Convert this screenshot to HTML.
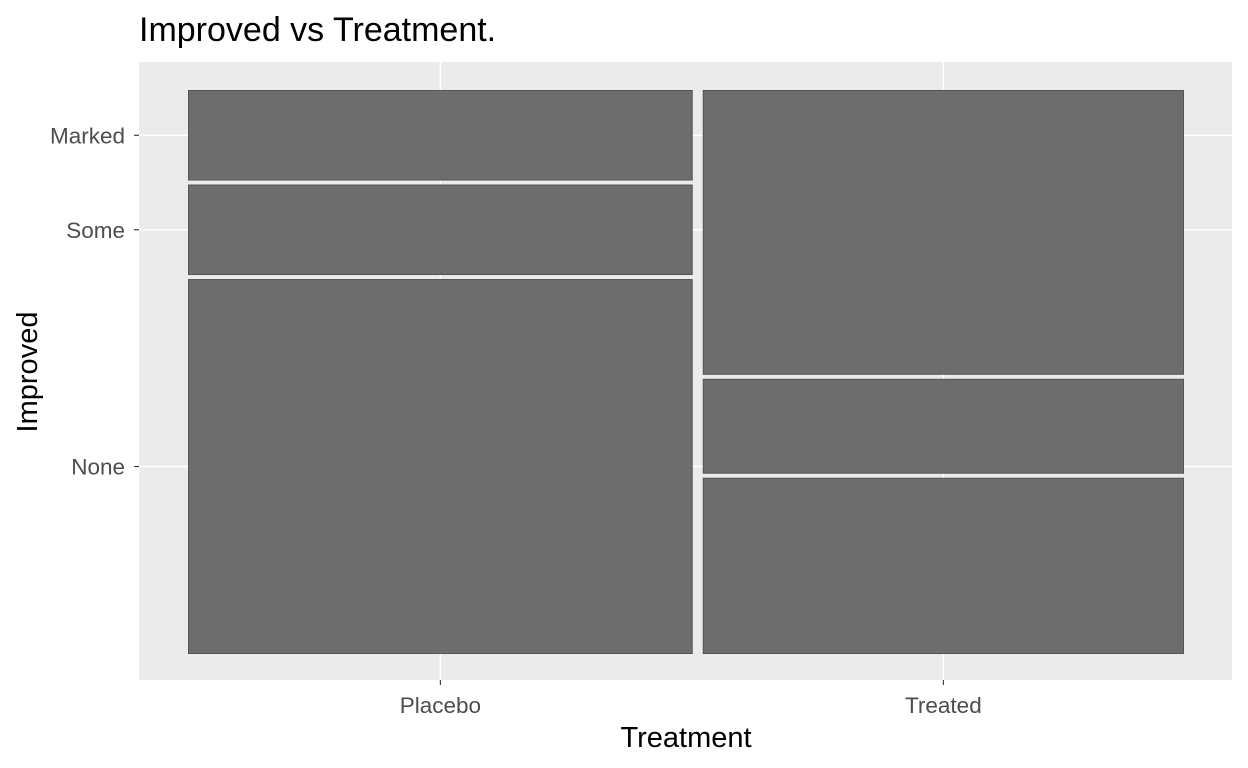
<!DOCTYPE html>
<html><head><meta charset="utf-8"><style>
body{margin:0;background:#fff;}
svg{display:block;font-family:"Liberation Sans",sans-serif;}
</style></head><body>
<svg width="1248" height="768">
<g id="root"></g>
</svg>
<script>
const categories = ["Placebo","Treated"];
const levels = ["None","Some","Marked"];
const noneCounts = [29,13];
const someCounts = [7,7];
const markedCounts = [7,21];

const NS="http://www.w3.org/2000/svg";
const root=document.getElementById('root');
function mk(t,a,p){const e=document.createElementNS(NS,t);for(const k in a)e.setAttribute(k,a[k]);(p||root).appendChild(e);return e;}
const P={x0:139,x1:1232,y0:62,y1:680};
const B={x0:188,x1:1184,y0:90,y1:654};
const gx=10, gy=4;
const bg=mk('rect',{x:P.x0,y:P.y0,width:P.x1-P.x0,height:P.y1-P.y0,fill:'#EBEBEB'});


const totals=categories.map((c,i)=>noneCounts[i]+someCounts[i]+markedCounts[i]);
const grand=totals.reduce((a,b)=>a+b,0);
const usableW=(B.x1-B.x0)-gx*(categories.length-1);
const usableH=(B.y1-B.y0)-gy*(levels.length-1);
function xs(v){return B.x0+v*usableW;}
const cols=[];let cum=0;
categories.forEach((c,i)=>{const l=xs(cum/grand)+i*gx;cum+=totals[i];const r=xs(cum/grand)+i*gx;cols.push([l,r]);});
const cells=[];
categories.forEach((c,i)=>{
  const vals=[noneCounts[i],someCounts[i],markedCounts[i]];
  let y=B.y1;
  vals.forEach((v,j)=>{const h=v/totals[i]*usableH;cells.push({i,j,x:cols[i][0],w:cols[i][1]-cols[i][0],y:y-h,h});y-=h+gy;});
});
const gridG=mk('g',{});
cols.forEach((c,i)=>{const e=mk('line',{x1:(c[0]+c[1])/2,x2:(c[0]+c[1])/2,y1:P.y0,y2:P.y1,stroke:'#fff','stroke-width':1.4},gridG);

});
cells.filter(c=>c.i===0).forEach(c=>{const e=mk('line',{x1:P.x0,x2:P.x1,y1:c.y+c.h/2,y2:c.y+c.h/2,stroke:'#fff','stroke-width':1.4},gridG);

});
cells.forEach(c=>{const e=mk('rect',{x:c.x+0.5,y:c.y+0.5,width:c.w-1,height:c.h-1,fill:'#6D6D6D',stroke:'#555','stroke-width':1});

});
cols.forEach((c,i)=>{const x=(c[0]+c[1])/2;
mk('line',{x1:x,x2:x,y1:P.y1,y2:P.y1+5,stroke:'#333','stroke-width':1.1});
const t=mk('text',{x:x,y:713,'text-anchor':'middle','font-size':22.5,fill:'#4D4D4D'});t.textContent=categories[i];

});
cells.filter(c=>c.i===0).forEach(c=>{const y=c.y+c.h/2;
mk('line',{x1:P.x0-5,x2:P.x0,y1:y,y2:y,stroke:'#333','stroke-width':1.1});
const t=mk('text',{x:P.x0-14,y:y+8,'text-anchor':'end','font-size':22.5,fill:'#4D4D4D'});t.textContent=levels[c.j];

});
const xt=mk('text',{x:686,y:747,'text-anchor':'middle','font-size':29,fill:'#000'});xt.textContent='Treatment';


const yt=mk('text',{x:0,y:0,'text-anchor':'middle','font-size':29,fill:'#000',transform:'translate(37,372) rotate(-90)'});yt.textContent='Improved';


const tt=mk('text',{x:139,y:41,'font-size':34,fill:'#000'});tt.textContent='Improved vs Treatment.';


</script>
</body></html>
